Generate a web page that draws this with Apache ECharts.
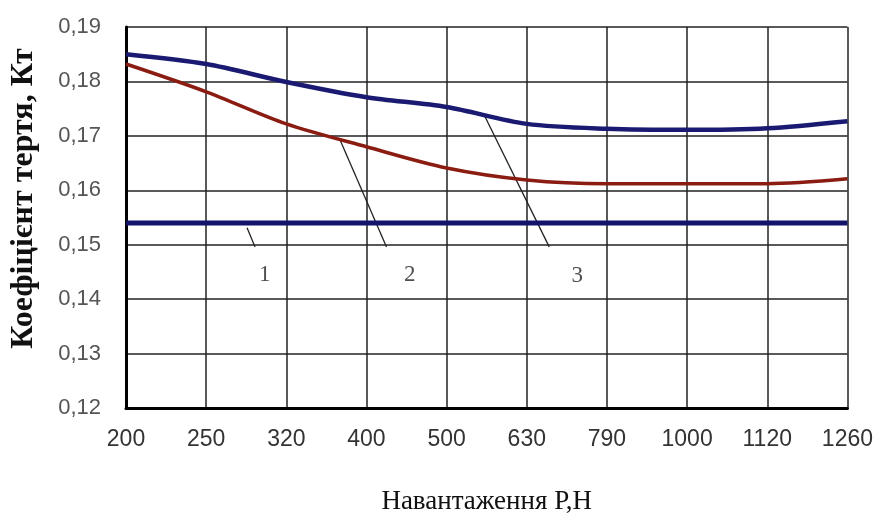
<!DOCTYPE html>
<html><head><meta charset="utf-8">
<script src="https://cdn.jsdelivr.net/npm/echarts@6/dist/echarts.min.js"></script>
<style>html,body{margin:0;padding:0;background:#fff}#c{width:876px;height:520px}</style>
</head><body><div id="c"></div>
<script>
const categories = ['200','250','320','400','500','630','790','1000','1120','1260'];
const curve1 = [0.154,0.154,0.154,0.154,0.154,0.154,0.154,0.154,0.154,0.154];
const curve2 = [0.1832,0.1781,0.1722,0.168,0.1641,0.1619,0.1612,0.1612,0.1612,0.1621];
const curve3 = [0.185,0.1832,0.1799,0.1771,0.1753,0.1722,0.1713,0.1711,0.1714,0.1727];
// leader lines (category-index, value)
const leader1 = [[1.51,0.1531],[1.61,0.1496]];
const leader2 = [[2.66,0.1696],[3.25,0.1496]];
const leader3 = [[4.47,0.1738],[5.28,0.1496]];
const curveLabels = [[1.73,0.1444,'1'],[3.54,0.1444,'2'],[5.63,0.1442,'3']];

const chart = echarts.init(document.getElementById('c'));
const leaderStyle = {color:'#222', width:1.3};
function leader(d){return {type:'line', xAxisIndex:1, data:d, symbol:'none', silent:true, lineStyle:leaderStyle, z:1};}
chart.setOption({
  animation:false,
  grid:{left:126, right:27, top:27, bottom:112},
  xAxis:[{
    type:'category', data:categories, boundaryGap:false,
    axisLine:{lineStyle:{color:'#000', width:3}},
    axisTick:{show:false},
    axisLabel:{color:'#333', fontFamily:'Liberation Sans, Arial, sans-serif', fontSize:23, margin:20},
    splitLine:{show:true, lineStyle:{color:'#222', width:1.5}},
    name:'Навантаження Р,Н', nameLocation:'middle', nameGap:80,
    nameTextStyle:{fontFamily:'Liberation Serif, serif', fontSize:27, color:'#111'}
  },{
    type:'value', min:0, max:9, show:false
  }],
  yAxis:{
    type:'value', min:0.12, max:0.19, interval:0.01,
    axisLine:{show:true, lineStyle:{color:'#000', width:3}},
    axisTick:{show:false},
    axisLabel:{color:'#555', fontFamily:'Liberation Sans, Arial, sans-serif', fontSize:22, margin:25,
      formatter:v=>v.toFixed(2).replace('.',',')},
    splitLine:{lineStyle:{color:'#222', width:1.5}},
    name:'Коефіцієнт тертя, Кт', nameLocation:'middle', nameGap:86, nameRotate:90,
    nameTextStyle:{fontFamily:'Liberation Serif, serif', fontSize:32, fontWeight:'bold', color:'#111', padding:[0,0,0,38]}
  },
  series:[
    {type:'line', data:curve1, symbol:'none', lineStyle:{color:'#13136a', width:5}, z:3},
    {type:'line', data:curve2, symbol:'none', smooth:0.3, lineStyle:{color:'#8a1c12', width:3.5}, z:3},
    {type:'line', data:curve3, symbol:'none', smooth:0.3, lineStyle:{color:'#1a1a72', width:4.5}, z:3},
    leader(leader1), leader(leader2), leader(leader3),
    {type:'scatter', xAxisIndex:1, symbolSize:0, data:curveLabels.map(d=>[d[0],d[1],d[2]]),
      label:{show:true, position:'inside', formatter:p=>p.data[2], fontFamily:'Liberation Serif, serif', fontSize:23, color:'#222'}}
  ]
});
</script></body></html>
